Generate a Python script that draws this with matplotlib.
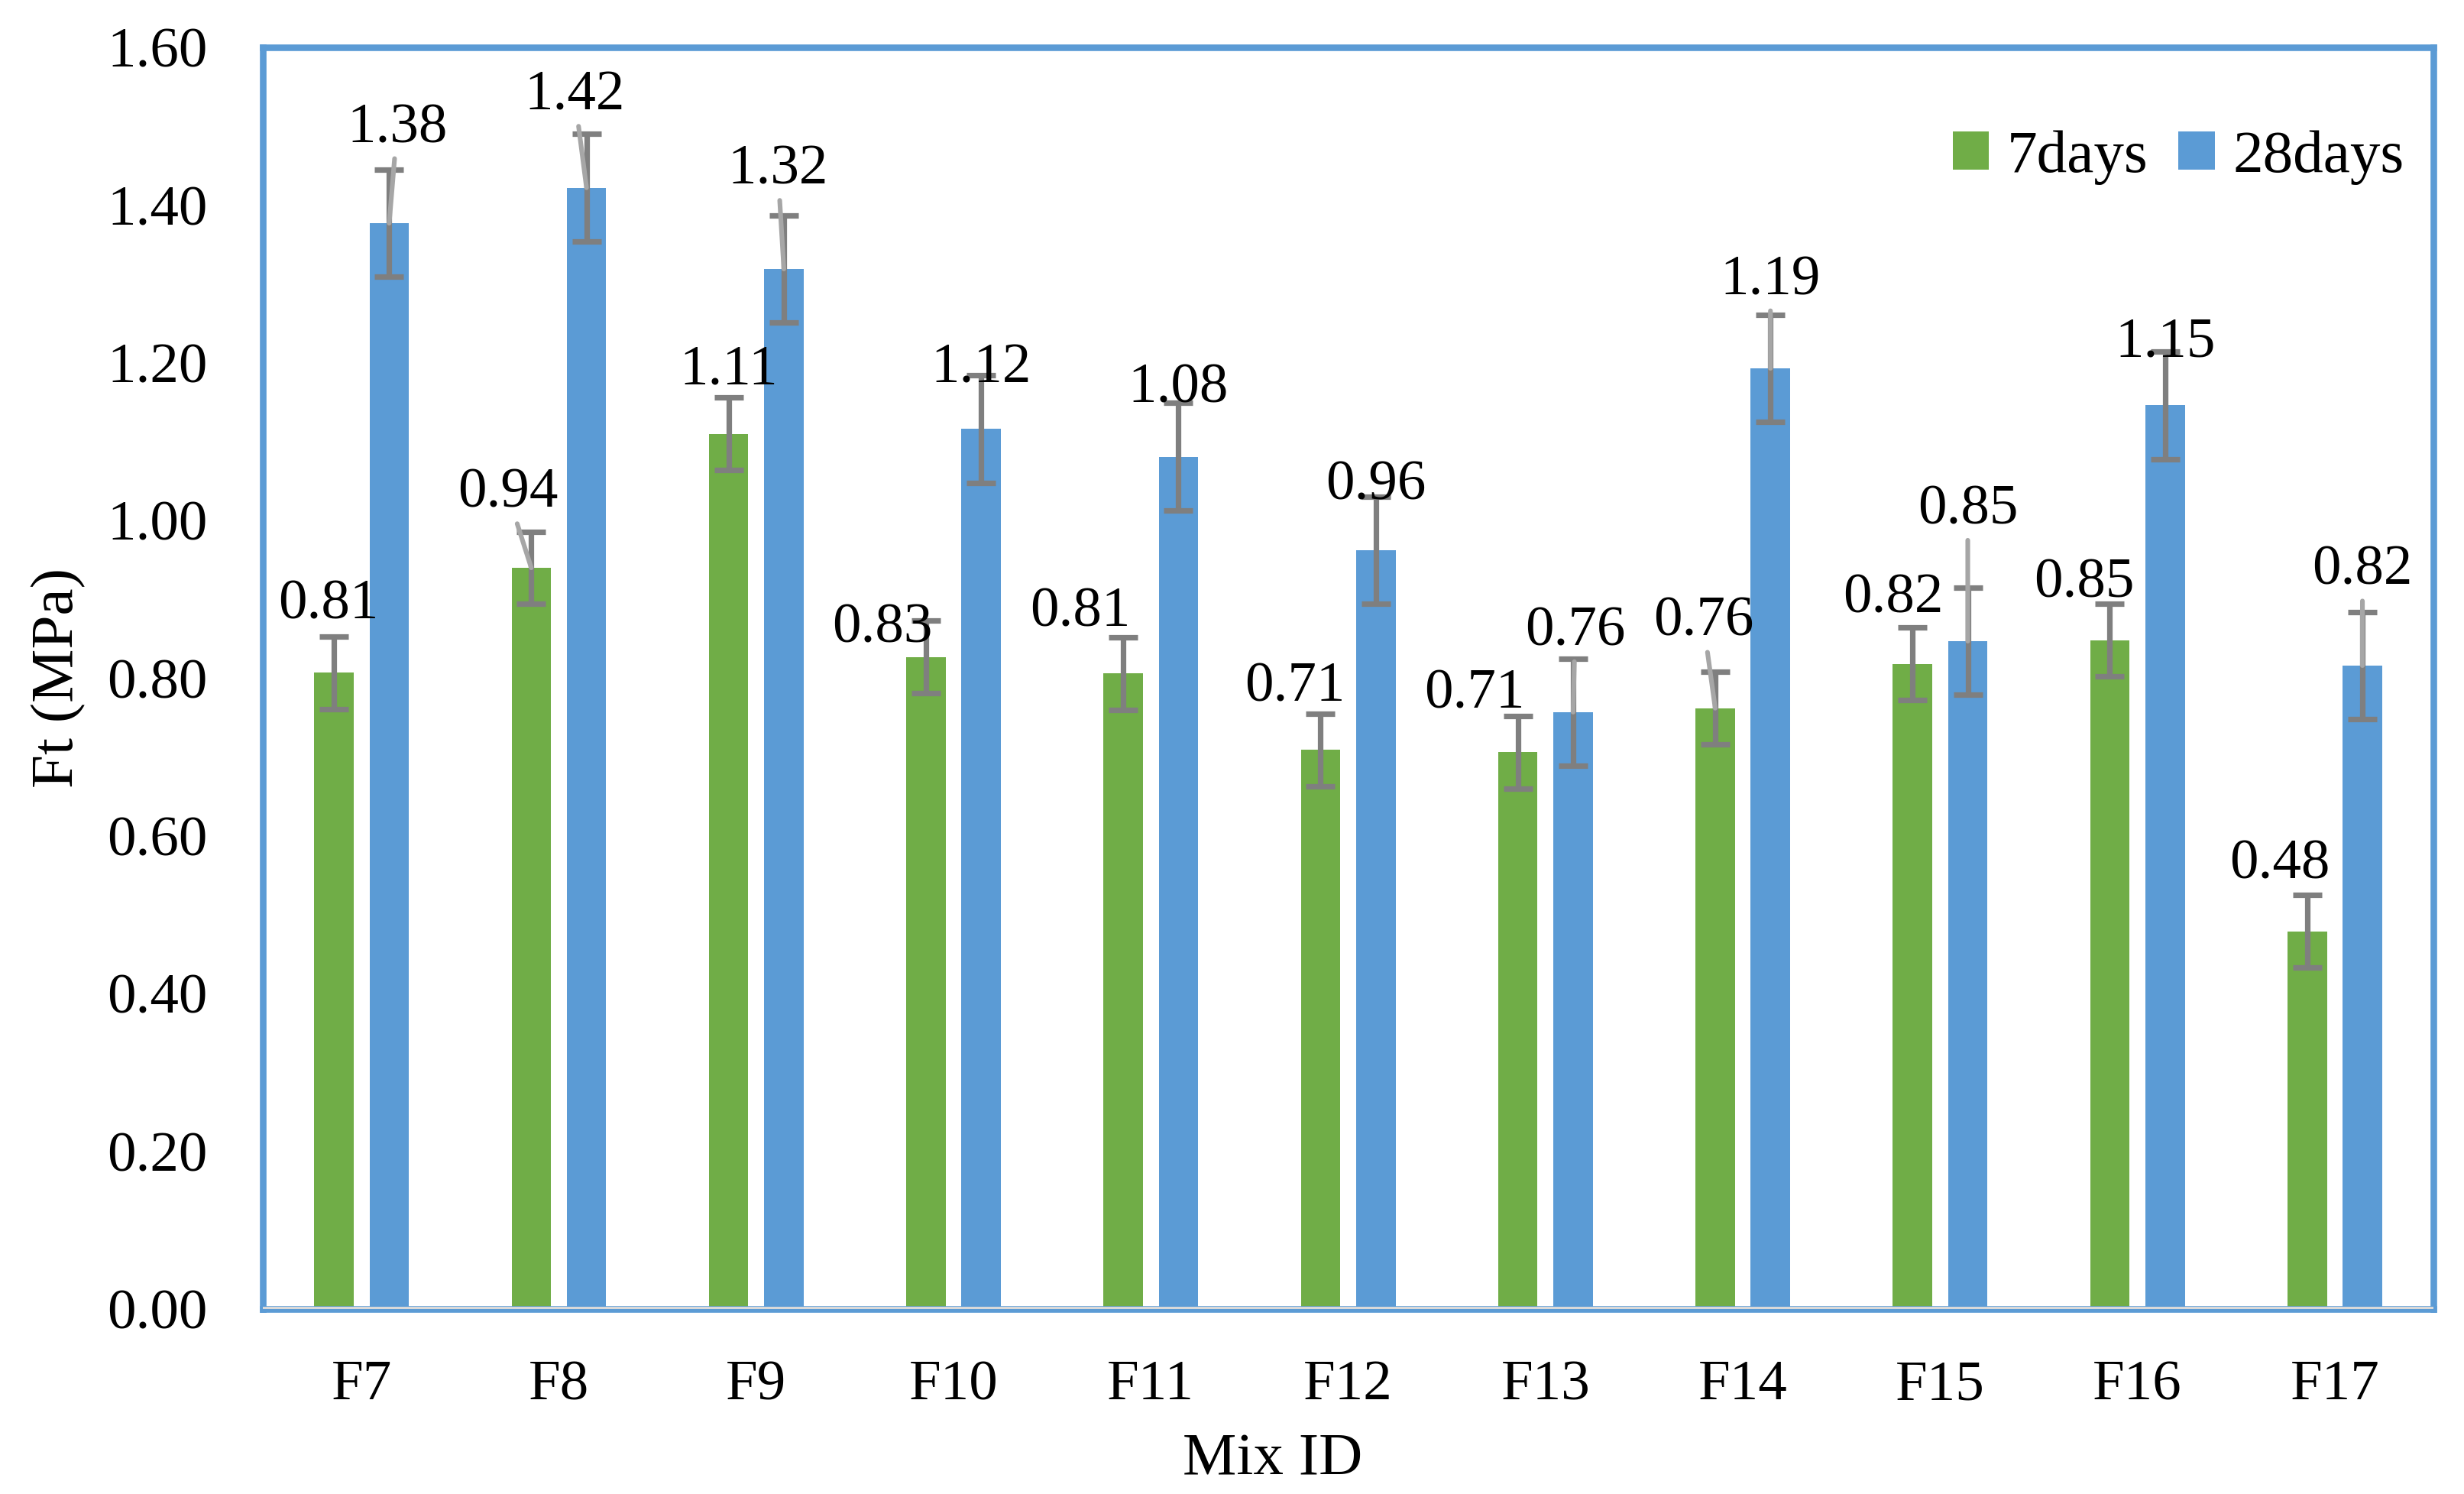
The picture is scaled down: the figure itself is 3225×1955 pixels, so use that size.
import matplotlib
matplotlib.use('Agg')
import matplotlib.pyplot as plt
import numpy as np

# values
mixes = ['F7', 'F8', 'F9', 'F10', 'F11', 'F12', 'F13', 'F14', 'F15', 'F16', 'F17']
ft_7days = [0.807, 0.94, 1.11, 0.827, 0.806, 0.709, 0.706, 0.762, 0.818, 0.848, 0.479]
ft_28days = [1.377, 1.422, 1.319, 1.116, 1.081, 0.962, 0.757, 1.193, 0.847, 1.146, 0.816]
err_7days = [0.046, 0.046, 0.046, 0.046, 0.046, 0.046, 0.046, 0.046, 0.046, 0.046, 0.046]
err_28days = [0.068, 0.068, 0.068, 0.068, 0.068, 0.068, 0.068, 0.068, 0.068, 0.068, 0.068]

# data label placement (manually dragged in the original), relative to bar top
lab_dx_7 = [-0.03, -0.12, 0.0, -0.22, -0.22, -0.13, -0.22, -0.06, -0.10, -0.13, -0.14]
lab_dy_7 = [0.086, 0.094, 0.080, 0.036, 0.077, 0.079, 0.073, 0.109, 0.083, 0.072, 0.084]
lab_dx_28 = [0.04, -0.06, -0.03, 0.0, 0.0, 0.0, 0.01, 0.0, 0.0, 0.0, 0.0]
lab_dy_28 = [0.12, 0.116, 0.125, 0.076, 0.086, 0.082, 0.102, 0.111, 0.166, 0.079, 0.12]
leader_7 = [1, 7]
leader_28 = [0, 1, 2, 6, 7, 8, 10]

GREEN = '#70AD47'
BLUE = '#5B9BD5'
ERR = '#7F7F7F'
LEADER = '#A6A6A6'
FS = 27
FS_TITLE = 28.5

plt.rcParams['font.family'] = ['Liberation Serif', 'DejaVu Serif']

fig = plt.figure(figsize=(16.125, 9.775), dpi=200)
ax = fig.add_axes([0.1067, 0.1238, 0.8809, 0.8445])

x = np.arange(len(mixes))
w = 0.2
off = 0.14

ax.bar(x - off, ft_7days, w, color=GREEN, label='7days', zorder=2)
ax.bar(x + off, ft_28days, w, color=BLUE, label='28days', zorder=2)

ax.errorbar(x - off, ft_7days, yerr=err_7days, fmt='none', ecolor=ERR,
            elinewidth=2.6, capsize=6.8, capthick=2.6, zorder=3)
ax.errorbar(x + off, ft_28days, yerr=err_28days, fmt='none', ecolor=ERR,
            elinewidth=2.6, capsize=6.8, capthick=2.6, zorder=3)


def add_labels(xs, vals, dxs, dys, leaders):
    for i, (xi, v) in enumerate(zip(xs, vals)):
        txt = f'{v:.2f}'
        pos = (xi + dxs[i], v + dys[i])
        if i in leaders:
            ax.annotate(txt, xy=(xi, v), xytext=pos, ha='center', va='center',
                        fontsize=FS, zorder=5,
                        arrowprops=dict(arrowstyle='-', color=LEADER, lw=2.2,
                                        shrinkA=0, shrinkB=0))
        else:
            ax.text(pos[0], pos[1], txt, ha='center', va='center',
                    fontsize=FS, zorder=5)


add_labels(x - off, ft_7days, lab_dx_7, lab_dy_7, leader_7)
add_labels(x + off, ft_28days, lab_dx_28, lab_dy_28, leader_28)

# light grey category axis line sitting on the blue frame
ax.axhline(0, color='#D9D9D9', lw=2.2, zorder=4)

ax.set_xlim(-0.5, 10.5)
ax.set_ylim(0, 1.6)
ax.set_yticks(np.arange(0, 1.61, 0.2))
ax.set_yticklabels([f'{t:.2f}' for t in np.arange(0, 1.61, 0.2)])
ax.set_xticks(x)
ax.set_xticklabels(mixes)
ax.tick_params(axis='both', length=0, labelsize=FS)
ax.tick_params(axis='y', pad=26)
ax.tick_params(axis='x', pad=24)

for s in ax.spines.values():
    s.set_color(BLUE)
    s.set_linewidth(3.1)

ax.set_xlabel('Mix ID', fontsize=FS_TITLE, labelpad=4)
ax.xaxis.set_label_coords(0.465, -0.098)
ax.set_ylabel('Ft (MPa)', fontsize=FS_TITLE, labelpad=10)

ax.legend(loc='upper right', ncol=2, frameon=False, fontsize=28.5,
          handlelength=0.6, handleheight=0.6, handletextpad=0.3,
          columnspacing=0.5, bbox_to_anchor=(1.006, 0.968), borderaxespad=0.3)

fig.savefig('out.png', dpi=200)
